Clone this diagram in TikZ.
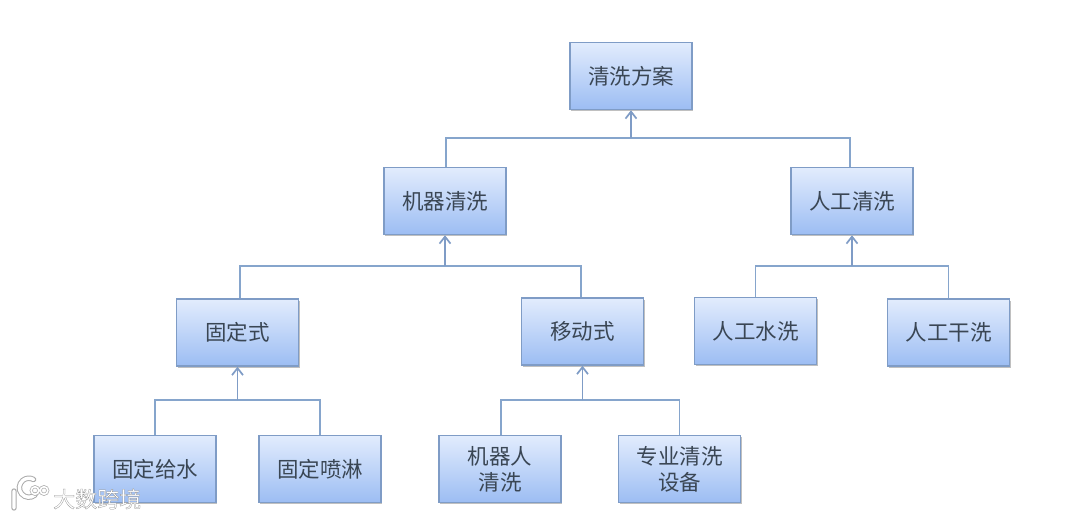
\documentclass[tikz,border=0pt]{standalone}
\usepackage{fontspec}
\newfontfamily\cjk{Noto Sans CJK SC}
\newfontfamily\cjkout[FakeBold=1.2]{Noto Sans CJK SC}
\usetikzlibrary{shadows,arrows.meta}
\definecolor{boxtop}{HTML}{E2ECFD}
\definecolor{boxbot}{HTML}{9CBDF3}
\definecolor{boxline}{HTML}{7F9CC6}
\definecolor{linkc}{HTML}{86A5CC}
\definecolor{txtc}{HTML}{3A4654}
\tikzset{
  x=1pt,y=-1pt,
  plan/.style={draw=boxline,line width=1.5pt,top color=boxtop,bottom color=boxbot,
    minimum width=122pt,minimum height=67pt,inner sep=0pt,align=center,text=txtc,
    font=\cjk\fontsize{21.5}{26}\selectfont,
    drop shadow={shadow xshift=1pt,shadow yshift=-1.5pt,opacity=.35,fill=black!70}},
  link/.style={draw=linkc,line width=1.4pt},
  uparrow/.style={link,draw=boxline,line width=1.7pt,-{Straight Barb[length=7pt,width=11pt,line width=1.7pt]}},
  mark text/.style={text=white,font=\cjkout\fontsize{22}{22}\selectfont,inner sep=0pt},
  logo under/.style={draw=gray!65,line width=5.4pt,line cap=round},
  logo over/.style={draw=white,line width=3.4pt,line cap=round},
  ring under/.style={draw=gray!65,line width=3pt},
  ring over/.style={draw=white,line width=1.6pt},
}
\begin{document}
\begin{tikzpicture}
\useasboundingbox (0,0) rectangle (1080,519);
\fill[white] (0,0) rectangle (1080,519);
% boxes
\node[plan] (root) at (631,76) {清洗方案};
\node[plan] (mach) at (445,201) {机器清洗};
\node[plan] (manu) at (852,201) {人工清洗};
\node[plan] (fixd) at (237.5,332.5) {固定式};
\node[plan] (move) at (582.5,331.5) {移动式};
\node[plan] (wash) at (755.5,331) {人工水洗};
\node[plan] (drys) at (948.5,332.5) {人工干洗};
\node[plan] (feed) at (155,469) {固定给水};
\node[plan] (spry) at (320,469) {固定喷淋};
\node[plan] (robo) at (500,469) {机器人\\清洗};
\node[plan] (prof) at (679.5,469) {专业清洗\\设备};
% junctions
\coordinate (j1) at (root.south |- 0,138);
\coordinate (j2) at (mach.south |- 0,266);
\coordinate (j3) at (manu.south |- 0,266);
\coordinate (j4) at (fixd.south |- 0,400);
\coordinate (j5) at (move.south |- 0,400);
% connectors
\draw[link] ([xshift=1pt]mach.north) |- (j1);
\draw[link] ([xshift=-2pt]manu.north) |- (j1);
\draw[uparrow] (j1) -- (root.south);
\draw[link] ([xshift=2.5pt]fixd.north) |- (j2);
\draw[link] ([xshift=-1.5pt]move.north) |- (j2);
\draw[uparrow] (j2) -- (mach.south);
\draw[link] (wash.north) |- (j3);
\draw[link] (drys.north) |- (j3);
\draw[uparrow] (j3) -- (manu.south);
\draw[link] (feed.north) |- (j4);
\draw[link] (spry.north) |- (j4);
\draw[uparrow] (j4) -- (fixd.south);
\draw[link] ([xshift=1pt]robo.north) |- (j5);
\draw[link] (prof.north) |- (j5);
\draw[uparrow] (j5) -- (move.south);
% watermark
\draw[logo under] (14,491) -- (14,508) (35,495) arc (50:300:9.5);
\draw[logo over] (14,491) -- (14,508) (35,495) arc (50:300:9.5);
\draw[ring under] (35,490.5) circle (3.8) (44,490.5) circle (3.8);
\draw[ring over] (35,490.5) circle (3.8) (44,490.5) circle (3.8);
\node[mark text,anchor=west] (wm) at (53,499) {\special{pdf:code 0.55 G}大数跨境};
\end{tikzpicture}
\end{document}
